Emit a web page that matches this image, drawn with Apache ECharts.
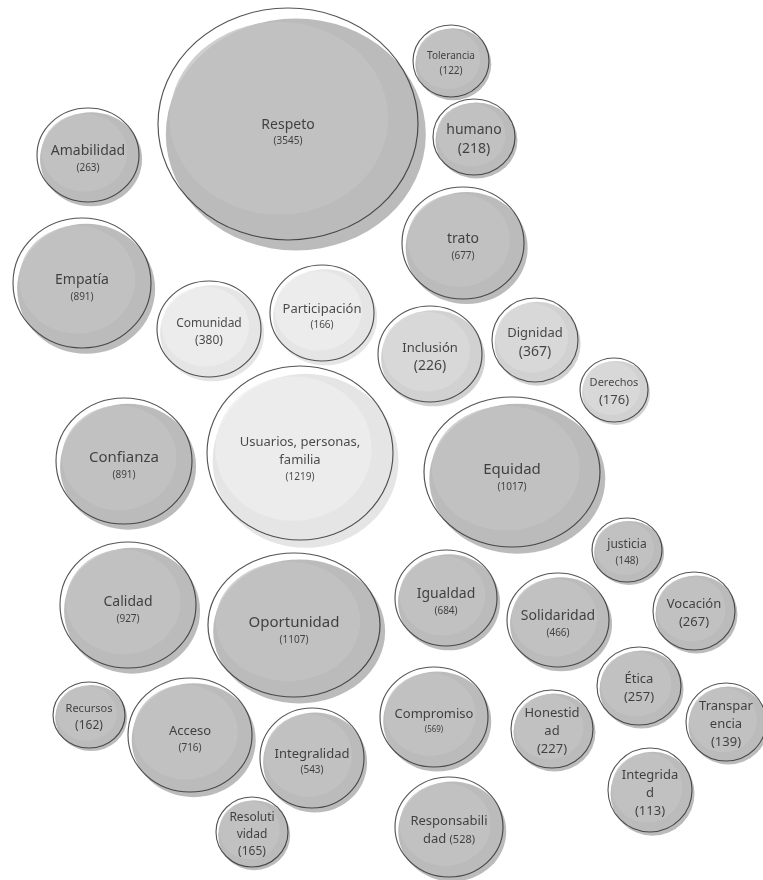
<!DOCTYPE html>
<html>
<head>
<meta charset="utf-8">
<script src="https://cdn.jsdelivr.net/npm/echarts@6/dist/echarts.min.js"></script>
<style>
  html, body { margin: 0; padding: 0; background: #fff; }
  #chart { width: 763px; height: 880px; }
</style>
</head>
<body>
<div id="chart"></div>
<script>
// palabras y frecuencias
const names = ['Respeto', 'Tolerancia', 'humano', 'Amabilidad', 'trato', 'Empatía', 'Comunidad', 'Participación',
  'Inclusión', 'Dignidad', 'Derechos', 'Usuarios, personas,\nfamilia', 'Confianza', 'Calidad', 'Oportunidad', 'Equidad',
  'justicia', 'Igualdad', 'Solidaridad', 'Vocación', 'Ética', 'Honestid\nad', 'Transpar\nencia', 'Integrida\nd',
  'Recursos', 'Acceso', 'Integralidad', 'Compromiso', 'Resoluti\nvidad', 'Responsabili\ndad']
const counts = [3545, 122, 218, 263, 677, 891, 380, 166,
  226, 367, 176, 1219, 891, 927, 1107, 1017,
  148, 684, 466, 267, 257, 227, 139, 113,
  162, 716, 543, 569, 165, 528]
// grupo de tono (oscuro / medio / claro)
const groups = ['dark', 'dark', 'dark', 'dark', 'dark', 'dark', 'light', 'light',
  'mid', 'mid', 'mid', 'light', 'dark', 'dark', 'dark', 'dark',
  'dark', 'dark', 'dark', 'dark', 'dark', 'dark', 'dark', 'dark',
  'dark', 'dark', 'dark', 'dark', 'dark', 'dark']
// centro y semiejes de cada burbuja (dibujadas a mano)
const cx = [288, 451, 474, 88, 463, 82, 209, 322, 430, 535, 614, 300, 124, 128, 294, 512,
  627, 446, 558, 694, 639, 552, 726, 650, 89, 190, 312, 434, 252, 449]
const cy = [124, 61, 137, 155, 243, 283, 329, 313, 354, 340, 390, 453, 461, 605, 625, 472,
  550, 598, 620, 611, 686, 729, 722, 790, 715, 735, 758, 717, 832, 827]
const rx = [130, 38, 41, 51, 61, 69, 52, 52, 52, 43, 34, 93, 68, 68, 86, 88,
  35, 51, 51, 41, 42, 41, 40, 42, 36, 62, 52, 54, 36, 54]
const ry = [116, 36, 38, 47, 56, 65, 48, 48, 48, 42, 32, 87, 63, 63, 72, 75,
  32, 48, 47, 39, 39, 39, 39, 42, 33, 57, 50, 50, 35, 50]

// estilos de texto (tamaño nombre / tamaño número)
const nameFont = [14, 10, 14, 14, 14, 14, 12, 13, 13, 13, 11, 13, 15, 14, 15, 15,
  12, 14, 14, 13, 13, 13, 13, 13, 11, 13, 13, 13, 12, 13]
const countFont = [10, 10, 14, 10, 10, 10, 12, 10, 14, 14, 13, 10, 10, 10, 10, 10,
  10, 10, 10, 13, 13, 13, 13, 13, 12, 10, 10, 8, 12, 11]
const inlineCount = ['Responsabili\ndad']

const shade = {
  dark: { fill: '#c3c3c3', shadow: '#aaaaaa' },
  mid: { fill: '#dadada', shadow: '#c6c6c6' },
  light: { fill: '#eeeeee', shadow: '#dedede' }
}
const FONT = '"Noto Sans", "DejaVu Sans", sans-serif'

const chart = echarts.init(document.getElementById('chart'))

function layer (kind) {
  return names.map((n, i) => {
    const a = rx[i]
    const b = ry[i]
    const item = { name: n, value: [cx[i], cy[i], counts[i]] }
    if (kind === 'shadow') {
      item.symbolSize = [a * 2, b * 2]
      item.symbolOffset = [a * 0.06, b * 0.09]
      item.itemStyle = { color: shade[groups[i]].shadow }
    } else if (kind === 'fill') {
      item.symbolSize = [a * 2 * 0.84, b * 2 * 0.83]
      item.symbolOffset = [-a * 0.07, -b * 0.05]
      item.itemStyle = { color: shade[groups[i]].fill }
    } else {
      item.symbolSize = [a * 2, b * 2]
      item.label = {
        offset: [0, b * 0.07],
        rich: {
          n: { fontSize: nameFont[i], fontFamily: FONT, color: '#1e1e1e', lineHeight: nameFont[i] + 5 },
          v: { fontSize: countFont[i], fontFamily: FONT, color: '#1e1e1e', lineHeight: countFont[i] + 5 }
        }
      }
    }
    return item
  })
}

const option = {
  animation: false,
  backgroundColor: '#fff',
  grid: { left: 0, right: 0, top: 0, bottom: 0 },
  xAxis: { type: 'value', min: 0, max: 763, show: false },
  yAxis: { type: 'value', min: 0, max: 880, inverse: true, show: false },
  series: [
    {
      type: 'scatter', symbol: 'circle', silent: true,
      data: layer('shadow')
    },
    {
      type: 'scatter', symbol: 'circle', silent: true,
      data: layer('fill')
    },
    {
      type: 'scatter', symbol: 'circle', silent: true,
      itemStyle: { color: 'rgba(0,0,0,0)', borderColor: '#2b2b2b', borderWidth: 1.1 },
      label: {
        show: true,
        position: 'inside',
        formatter: p => {
          const lines = p.name.split('\n').map(s => '{n|' + s + '}')
          const num = '{v|(' + p.value[2] + ')}'
          if (inlineCount.indexOf(p.name) >= 0) {
            lines[lines.length - 1] += ' ' + num
            return lines.join('\n')
          }
          return lines.join('\n') + '\n' + num
        }
      },
      data: layer('outline')
    }
  ]
}
chart.setOption(option)
</script>
</body>
</html>
